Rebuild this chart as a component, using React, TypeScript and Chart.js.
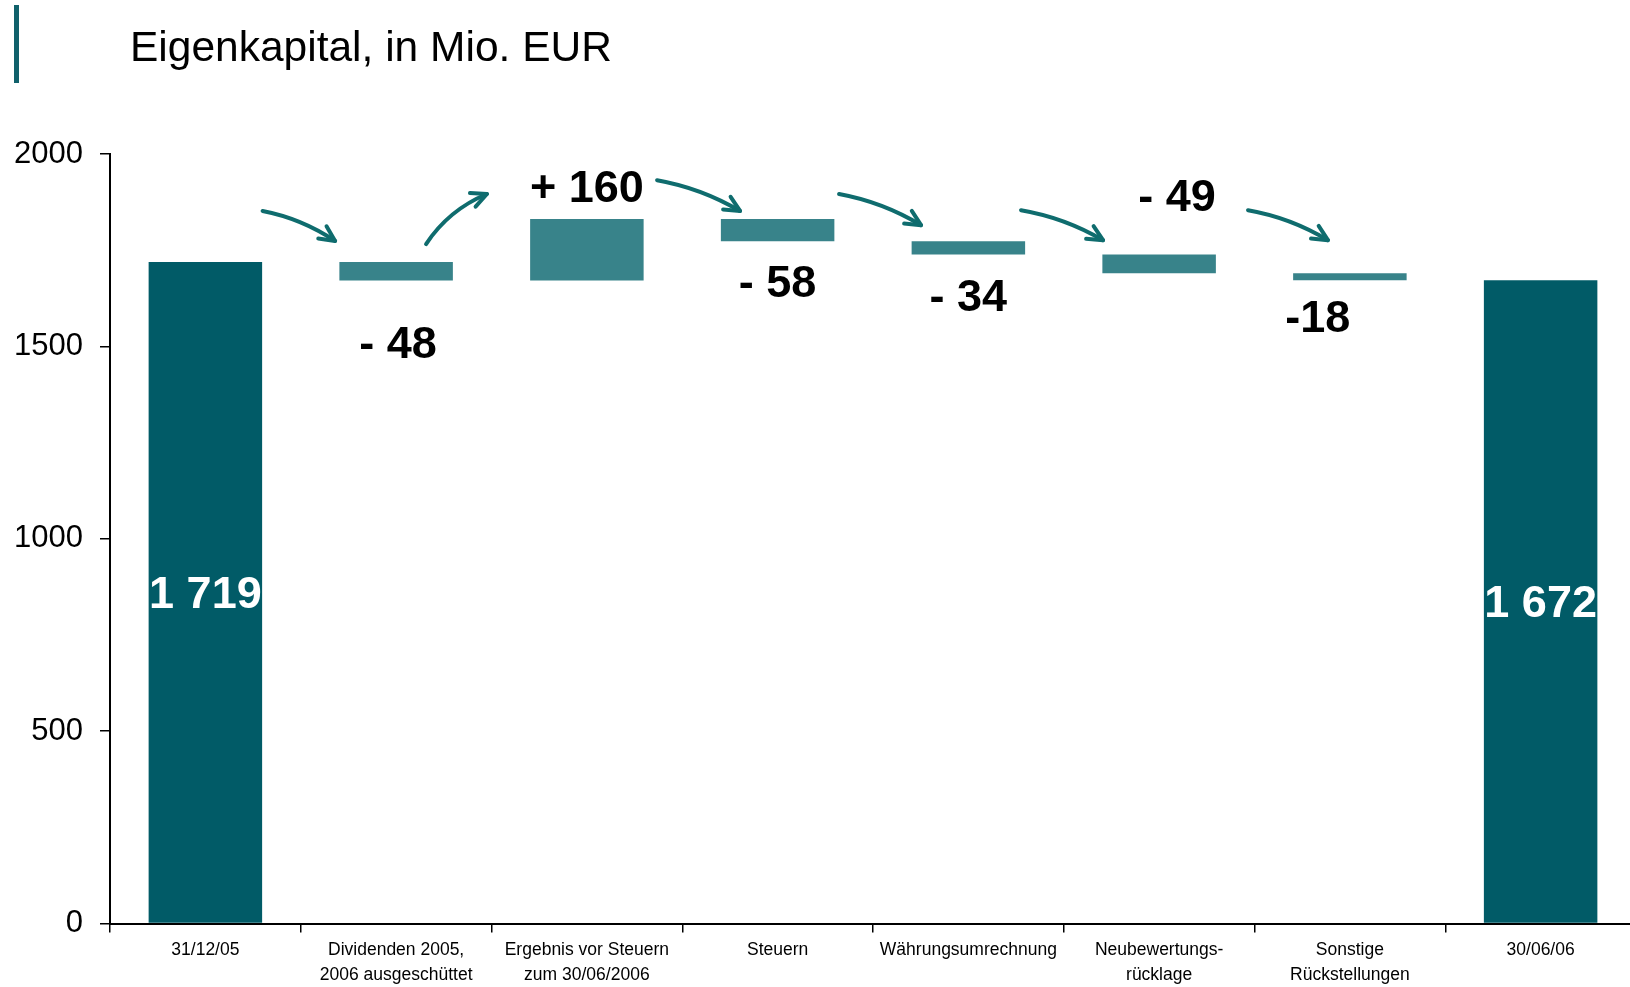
import React, { useEffect, useRef } from "react";
import { Chart, registerables } from "chart.js";

Chart.register(...registerables);

// ---- data ----
const CATEGORIES: string[][] = [
  ["31/12/05"],
  ["Dividenden 2005,", "2006 ausgeschüttet"],
  ["Ergebnis vor Steuern", "zum 30/06/2006"],
  ["Steuern"],
  ["Währungsumrechnung"],
  ["Neubewertungs-", "rücklage"],
  ["Sonstige", "Rückstellungen"],
  ["30/06/06"],
];
const START_VALUE = 1719;
const CHANGES = [-48, 160, -58, -34, -49, -18];
const END_VALUE = 1672;
const CHANGE_LABELS = ["- 48", "+ 160", "- 58", "- 34", "- 49", "-18"];
const TOTAL_LABELS = ["1 719", "1 672"];
const Y_TICKS = [0, 500, 1000, 1500, 2000];
const TITLE = "Eigenkapital, in Mio. EUR";
// arrows: [fromCategory, fromValue, toCategory, toValue]
const ARROWS: number[][] = [
  [0.3, 1852, 0.68, 1774],
  [1.157, 1766, 1.476, 1896],
  [2.368, 1932, 2.803, 1852],
  [3.322, 1896, 3.752, 1815],
  [4.276, 1854, 4.706, 1776],
  [5.466, 1854, 5.885, 1776],
];

// ---- styles ----
const FONT = "'Liberation Sans', Arial, Helvetica, sans-serif";
const DARK = "#015B67";
const LIGHT = "#38838A";
const ARROW_COLOR = "#0F6C6E";
// label placement per change bar: side, dx, dy (px)
const LABEL_PLACE: [string, number, number][] = [
  ["below", 2, 65],
  ["above", 0, -29],
  ["below", 0, 43],
  ["below", 0, 44],
  ["above", 18, -56],
  ["below", -32, 39],
];
const ARROW_BEND = [8, 12, 8, 8, 8, 8];

export default function App() {
  const ref = useRef<HTMLCanvasElement | null>(null);

  useEffect(() => {
    const canvas = ref.current;
    if (!canvas) return;

    const ranges: number[][] = [[0, START_VALUE]];
    let level = START_VALUE;
    for (const c of CHANGES) {
      const next = level + c;
      ranges.push([Math.min(level, next), Math.max(level, next)]);
      level = next;
    }
    ranges.push([0, END_VALUE]);
    const colors = ranges.map((_, i) =>
      i === 0 || i === ranges.length - 1 ? DARK : LIGHT
    );

    const overlay = {
      id: "overlay",
      afterDatasetsDraw(chart: any) {
        const ctx = chart.ctx as CanvasRenderingContext2D;
        const xs = chart.scales.x;
        const ys = chart.scales.y;
        const meta = chart.getDatasetMeta(0);
        ctx.save();
        // totals
        const totalIdx = [0, meta.data.length - 1];
        ctx.font = `bold 45px ${FONT}`;
        ctx.fillStyle = "#ffffff";
        ctx.textAlign = "center";
        ctx.textBaseline = "middle";
        totalIdx.forEach((bi, k) => {
          const b = meta.data[bi];
          ctx.fillText(TOTAL_LABELS[k], b.x, (b.y + b.base) / 2 + 3);
        });
        // change labels
        ctx.fillStyle = "#000000";
        CHANGE_LABELS.forEach((t, k) => {
          const b = meta.data[k + 1];
          const top = Math.min(b.y, b.base);
          const bottom = Math.max(b.y, b.base);
          const [side, dx, dy] = LABEL_PLACE[k];
          const cy = side === "above" ? top + dy : bottom + dy;
          ctx.fillText(t, b.x + dx, cy);
        });
        // arrows
        ctx.strokeStyle = ARROW_COLOR;
        ctx.lineWidth = 4;
        ctx.lineCap = "round";
        ctx.lineJoin = "round";
        ARROWS.forEach((a, k) => {
          const x0 = xs.getPixelForValue(a[0]);
          const y0 = ys.getPixelForValue(a[1]);
          const x1 = xs.getPixelForValue(a[2]);
          const y1 = ys.getPixelForValue(a[3]);
          const dx = x1 - x0;
          const dy = y1 - y0;
          const len = Math.hypot(dx, dy);
          const nx = dy / len;
          const ny = -dx / len;
          const cx = (x0 + x1) / 2 + nx * ARROW_BEND[k];
          const cy = (y0 + y1) / 2 + ny * ARROW_BEND[k];
          ctx.beginPath();
          ctx.moveTo(x0, y0);
          ctx.quadraticCurveTo(cx, cy, x1, y1);
          ctx.stroke();
          const ang = Math.atan2(y1 - cy, x1 - cx);
          const hl = 17;
          ctx.beginPath();
          ctx.moveTo(x1 - hl * Math.cos(ang - 0.45), y1 - hl * Math.sin(ang - 0.45));
          ctx.lineTo(x1, y1);
          ctx.lineTo(x1 - hl * Math.cos(ang + 0.45), y1 - hl * Math.sin(ang + 0.45));
          ctx.stroke();
        });
        ctx.restore();
      },
      afterDraw(chart: any) {
        const ctx = chart.ctx as CanvasRenderingContext2D;
        ctx.save();
        ctx.fillStyle = "#10616B";
        ctx.fillRect(14, 5, 5, 78);
        ctx.fillStyle = "#000000";
        ctx.font = `42.5px ${FONT}`;
        ctx.textAlign = "left";
        ctx.textBaseline = "alphabetic";
        ctx.fillText(TITLE, 130, 61);
        ctx.restore();
      },
    };

    const chart = new Chart(canvas, {
      type: "bar",
      data: {
        labels: CATEGORIES,
        datasets: [
          {
            data: ranges as any,
            backgroundColor: colors,
            borderWidth: 0,
            categoryPercentage: 1,
            barPercentage: 0.595,
          },
        ],
      },
      options: {
        responsive: false,
        animation: false,
        layout: { padding: { top: 154, left: 0, right: 0, bottom: 0 } },
        plugins: {
          legend: { display: false },
          tooltip: { enabled: false },
          title: { display: false },
        },
        scales: {
          x: {
            grid: {
              display: true,
              drawOnChartArea: false,
              drawTicks: true,
              tickLength: 9,
              color: "#000",
              lineWidth: 1.5,
              offset: true,
            },
            border: { display: true, color: "#000", width: 2 },
            ticks: {
              color: "#000",
              font: { family: FONT, size: 17.5, lineHeight: 1.42 },
              padding: 5,
              maxRotation: 0,
              autoSkip: false,
            },
            afterFit: (s: any) => {
              s.height = 987 - 923.5;
            },
          },
          y: {
            min: 0,
            max: 2000,
            afterBuildTicks: (s: any) => {
              s.ticks = Y_TICKS.map((v) => ({ value: v }));
            },
            grid: {
              drawOnChartArea: false,
              drawTicks: true,
              tickLength: 10,
              color: "#000",
              lineWidth: 1.5,
            },
            border: { display: true, color: "#000", width: 2 },
            ticks: {
              color: "#000",
              font: { family: FONT, size: 31 },
              padding: 17,
              callback: (v: any) => String(v),
            },
            afterFit: (s: any) => {
              s.width = 110;
            },
          },
        },
      },
      plugins: [overlay],
    });

    return () => chart.destroy();
  }, []);

  return (
    <div
      style={{
        position: "absolute",
        left: 0,
        top: 0,
        width: 1630,
        height: 987,
        overflow: "hidden",
        background: "#fff",
      }}
    >
      <canvas
        ref={ref}
        width={1636}
        height={987}
        style={{ display: "block", width: 1636, height: 987 }}
      />
    </div>
  );
}
